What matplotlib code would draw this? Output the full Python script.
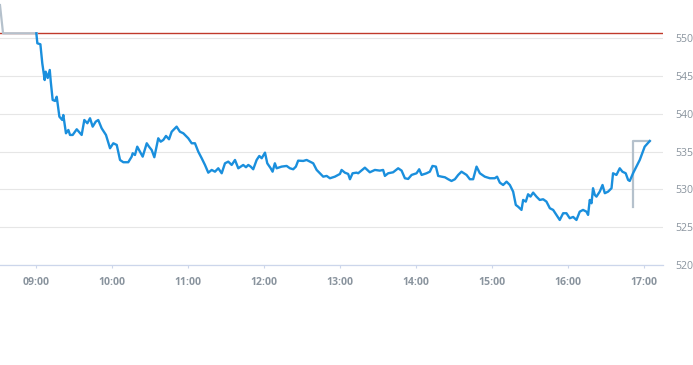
import pandas as pd
import matplotlib
matplotlib.use("Agg")
import matplotlib.pyplot as plt
import matplotlib.dates as mdates

# Intraday price, minutes after 09:00 and price
minutes = [0, 0.8, 3.2, 4.7, 6.6, 7.4, 9.0, 10.6, 11.4, 12.9, 14.8, 16.1, 18.2, 20.5, 21.3,
           23.4, 25.3, 26.6, 28.7, 31.9, 35.8, 37.9, 40.3, 42.4, 44.5, 46.9, 48.9, 51.6,
           55.0, 58.2, 60.8, 63.5, 66.1, 68.7, 72.6, 75.3, 76.1, 77.9, 79.7, 81.9, 84.0,
           87.2, 89.0, 91.1, 93.2, 96.3, 98.2, 100.3, 102.4, 104.8, 106.9, 110.8, 113.4,
           116.1, 120.0, 122.7, 125.3, 127.9, 130.6, 133.2, 135.8, 138.5, 141.1, 143.7,
           146.4, 149.0, 151.6, 154.3, 156.9, 159.5, 163.4, 165.6, 167.4, 169.3, 171.3,
           174.0, 176.1, 178.0, 180.6, 182.4, 185.1, 186.6, 188.4, 189.8, 193.7, 197.7,
           200.3, 202.9, 205.0, 206.8, 210.8, 213.5, 216.1, 218.7, 221.4, 224.0, 226.6,
           229.3, 231.9, 235.8, 239.8, 241.1, 243.7, 246.3, 247.7, 249.8, 252.9, 254.2,
           259.5, 263.4, 267.4, 271.3, 273.9, 275.3, 277.9, 281.8, 285.8, 288.5, 291.1,
           293.7, 296.4, 300.3, 302.4, 304.3, 308.2, 310.8, 312.9, 315.6, 317.4, 320.1,
           322.7, 325.3, 327.9, 330.6, 333.2, 335.8, 339.8, 342.4, 345.0, 347.7, 350.3,
           354.2, 358.2, 362.1, 363.9, 366.1, 368.7, 371.4, 374.0, 376.6, 378.7, 380.5,
           383.2, 384.5, 386.6, 388.4, 390.3, 392.4, 395.0, 397.6, 400.3, 402.9, 405.6,
           408.2, 410.8, 413.4, 416.1, 418.7, 421.3, 424.0, 426.6, 429.2, 431.8, 434.5,
           435.8, 437.1, 438.5, 439.7, 441.1, 442.4, 445.0, 447.2, 449.0, 451.6, 454.3,
           455.5, 458.2, 460.8, 462.9, 465.5, 467.4, 468.7, 471.3, 476.6, 480.5, 484.5]
prices = [550.66, 549.34, 549.21, 546.69, 544.48, 545.58, 544.75, 545.81, 544.26, 541.84,
          541.71, 542.27, 539.63, 539.19, 539.85, 537.43, 537.87, 537.21, 537.21, 537.96,
          537.21, 539.19, 538.76, 539.42, 538.31, 538.97, 539.19, 538.09, 537.21, 535.45,
          536.11, 535.89, 533.90, 533.60, 533.60, 534.34, 534.79, 534.56, 535.66, 535.00,
          534.34, 536.11, 535.66, 535.22, 534.26, 536.77, 536.32, 536.55, 537.08, 536.64,
          537.64, 538.31, 537.64, 537.43, 536.77, 536.11, 536.11, 535.00, 534.13, 533.24,
          532.22, 532.58, 532.35, 532.80, 532.14, 533.46, 533.68, 533.24, 533.90, 532.80,
          533.24, 532.94, 533.24, 533.02, 532.67, 533.90, 534.43, 534.13, 534.87, 533.46,
          532.80, 532.35, 533.46, 532.80, 533.02, 533.11, 532.80, 532.67, 533.02, 533.81,
          533.77, 533.90, 533.68, 533.46, 532.58, 532.14, 531.69, 531.79, 531.48, 531.69,
          532.05, 532.58, 532.22, 532.05, 531.35, 532.14, 532.22, 532.14, 532.88, 532.27,
          532.58, 532.49, 532.58, 531.79, 532.14, 532.27, 532.80, 532.49, 531.48, 531.39,
          531.92, 532.14, 532.67, 531.92, 532.14, 532.35, 533.11, 533.02, 531.79, 531.69,
          531.61, 531.35, 531.12, 531.35, 531.92, 532.35, 531.92, 531.35, 531.35, 533.02,
          532.14, 531.69, 531.48, 531.48, 531.69, 530.90, 530.59, 531.03, 530.59, 529.71,
          527.95, 527.72, 527.29, 528.61, 528.39, 529.36, 529.05, 529.58, 529.05, 528.61,
          528.70, 528.39, 527.51, 527.29, 526.63, 525.96, 526.85, 526.85, 526.19, 526.36,
          525.96, 527.06, 527.29, 527.06, 526.63, 528.61, 528.17, 530.16, 529.27, 529.05,
          529.71, 530.59, 529.50, 529.71, 530.16, 532.14, 531.92, 532.80, 532.35, 532.14,
          531.26, 531.12, 532.14, 533.90, 535.66, 536.41]

# last price reference series (grey), minutes after 09:00
last_minutes = [-28.7, -26.3, 0.5, None, 471.3, 471.3, 484.5]
last_prices = [554.4, 550.66, 550.66, None, 527.64, 536.41, 536.41]

prev_close = 550.66
y_ticks = [520, 525, 530, 535, 540, 545, 550]

day = pd.Timestamp("2024-01-08 09:00")
times = day + pd.to_timedelta(minutes, unit="min")

fig = plt.figure(figsize=(6.93, 3.65), dpi=100)
ax = fig.add_axes([0, 1 - 265 / 365, 663.3 / 693, 265 / 365])

ax.axhline(prev_close, color="#c0392b", lw=1.0, zorder=2)

# grey segments drawn piecewise
seg_t, seg_p = [], []
for m, p in zip(last_minutes, last_prices):
    if m is None:
        ax.plot(day + pd.to_timedelta(seg_t, unit="min"), seg_p, color="#b5c1cc", lw=1.6, zorder=3)
        seg_t, seg_p = [], []
    else:
        seg_t.append(m)
        seg_p.append(p)
ax.plot(day + pd.to_timedelta(seg_t, unit="min"), seg_p, color="#b5c1cc", lw=1.6, zorder=3)

ax.plot(times, prices, color="#1a8fdd", lw=1.7, zorder=4, solid_joinstyle="round")

ax.set_xlim(day + pd.Timedelta(minutes=-28.7), day + pd.Timedelta(minutes=495.2))
ax.set_ylim(520, 555.07)
ax.set_yticks(y_ticks)
ax.yaxis.tick_right()
ax.grid(axis="y", color="#e6e6e6", lw=0.8)
ax.set_axisbelow(True)

ax.xaxis.set_major_locator(mdates.HourLocator())
ax.xaxis.set_major_formatter(mdates.DateFormatter("%H:%M"))

for s in ["top", "left", "right"]:
    ax.spines[s].set_visible(False)
ax.spines["bottom"].set_color("#ccd6eb")
ax.spines["bottom"].set_linewidth(0.9)

ax.tick_params(axis="x", colors="#ccd6eb", length=2.5, width=0.8, pad=6)
ax.tick_params(axis="y", length=0, pad=9)
for lbl in ax.get_xticklabels():
    lbl.set_color("#8a949e")
    lbl.set_fontweight("bold")
    lbl.set_fontsize(7.6)
    lbl.set_fontfamily("Open Sans")
for lbl in ax.get_yticklabels():
    lbl.set_color("#8a949e")
    lbl.set_fontsize(7.6)
    lbl.set_fontfamily("Open Sans")

fig.savefig("out.png", dpi=100)
